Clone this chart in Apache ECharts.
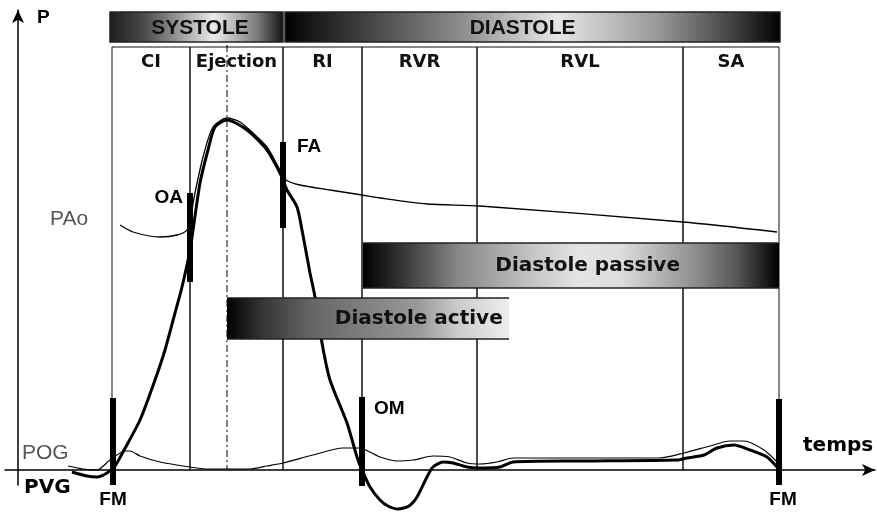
<!DOCTYPE html>
<html>
<head>
<meta charset="utf-8">
<script src="https://cdn.jsdelivr.net/npm/echarts@6/dist/echarts.min.js"></script>
<style>
  html, body { margin: 0; padding: 0; background: #fff; }
  #chart { width: 877px; height: 512px; }
</style>
</head>
<body>
<div id="chart"></div>
<script>
// temps (t) / pression (p), unités arbitraires
const pvg = [[54,-2],[69,-6],[79,-7],[89,-3],[97,4],[105,18],[122,50],[137,90],[147,120],[157,157],[164,183],
  [172,220],[182,287],[190,320],[197,343],[209,350],[229,340],[249,320],[262,297],[269,280],[279,263],[284,240],
  [292,197],[297,173],[304,127],[312,90],[329,47],[339,13],[344,0],[352,-17],[362,-30],[370,-36],[380,-39],[391,-36],
  [399,-27],[409,-7],[415,3],[425,8],[435,7],[449,3],[462,2],[482,3],[495,8],[562,9],[659,10],[669,12],
  [686,15],[699,22],[716,25],[732,20],[749,13],[759,3],[761,0]];
const pao = [[102,245],[115,238],[142,233],[159,235],[169,240],[173,255],[177,277],[185,313],[195,343],[209,352],
  [222,348],[235,337],[249,323],[262,300],[268,290],[282,285],[312,280],[344,275],[362,272],[409,266],[462,264],
  [665,248],[759,238]];
const pog = [[50,4],[65,1],[79,0],[92,10],[107,19],[112,19],[122,14],[142,8],[172,3],[189,1],[232,1],[249,4],
  [265,7],[295,15],[325,22],[342,22],[352,18],[362,13],[379,9],[395,10],[415,14],[432,13],[449,7],[462,6],
  [479,8],[495,12],[642,12],[666,17],[692,24],[712,29],[726,29],[746,20],[759,8]];

const phaseNames = ['CI', 'Ejection', 'RI', 'RVR', 'RVL', 'SA'];
const phaseBounds = [94, 172, 265, 344, 459, 665, 761];
const cycleNames = ['SYSTOLE', 'DIASTOLE'];
const cycleBounds = [[92, 265], [267, 762]];
const diastoleNames = ['Diastole passive', 'Diastole active'];
const diastoleBounds = [[345, 761], [209, 491]];
const valveNames = ['FM', 'OA', 'FA', 'OM', 'FM'];
const valveTimes = [95, 172, 265, 344, 761];
const valveRange = [[-15, 72], [188, 277], [242, 328], [-16, 73], [-15, 71]];
const ejectionMid = 209;

const chart = echarts.init(document.getElementById('chart'));

function grad(stops) {
  return { type: 'linear', x: 0, y: 0, x2: 1, y2: 0,
    colorStops: stops.map(s => ({ offset: s[0], color: s[1] })) };
}
const bandStops = [
  [[0,'#1c1c1c'],[0.2,'#4a4a4a'],[0.4,'#9a9a9a'],[0.6,'#ececec'],[0.85,'#7a7a7a'],[1,'#111']],
  [[0,'#000'],[0.1,'#2a2a2a'],[0.35,'#8a8a8a'],[0.55,'#e6e6e6'],[0.75,'#9a9a9a'],[0.9,'#444'],[1,'#000']]
];
// boites diastole : [haut, bas, position du texte, dégradé]
const boxStyle = [
  { top: 227, bottom: 182, textAt: 0.54,
    stops: [[0,'#000'],[0.09,'#333'],[0.23,'#888'],[0.43,'#ccc'],[0.52,'#e4e4e4'],[0.62,'#ddd'],[0.81,'#888'],[0.9,'#555'],[1,'#000']] },
  { top: 172, bottom: 131, textAt: 0.68,
    stops: [[0,'#000'],[0.12,'#333'],[0.3,'#666'],[0.68,'#999'],[0.82,'#ccc'],[1,'#eee']] }
];
// étiquettes des valves : [alignement, dx, dy, ancrage]
const valveLabel = [
  ['center', 0, 15, 'bottom'], ['right', -7, 5, 'top'], ['left', 14, 5, 'top'],
  ['left', 12, 12, 'top'], ['center', 4, 15, 'bottom']
];

const curve = (name, data, width, z) => ({
  type: 'line', name: name, z: z, clip: false, showSymbol: false, symbol: 'none',
  smooth: 0.25,
  data: data, lineStyle: { color: '#000', width: width }
});

const option = {
  animation: false,
  backgroundColor: '#fff',
  grid: { left: 5, right: 2, top: 10, bottom: 27 },
  xAxis: {
    type: 'value', min: -13, max: 857,
    axisLine: { show: true, onZero: true, symbol: ['none', 'arrow'], symbolSize: [9, 13],
      lineStyle: { color: '#000', width: 1.5 } },
    axisTick: { show: false }, axisLabel: { show: false }, splitLine: { show: false }
  },
  yAxis: {
    type: 'value', min: -15, max: 460,
    axisLine: { show: true, onZero: true, symbol: ['none', 'arrow'], symbolSize: [9, 13],
      lineStyle: { color: '#000', width: 1.5 } },
    axisTick: { show: false }, axisLabel: { show: false }, splitLine: { show: false }
  },
  series: [
    {
      type: 'custom', name: 'phases', z: 1, silent: true,
      data: phaseNames.map((n, i) => [phaseBounds[i], phaseBounds[i + 1]]),
      encode: { x: [0, 1] },
      renderItem(params, api) {
        const a = api.coord([api.value(0), 423]);
        const b = api.coord([api.value(1), 0]);
        const ty = api.coord([0, 408])[1];
        return { type: 'group', children: [
          { type: 'polyline', shape: { points: [[a[0], b[1]], [a[0], a[1]], [b[0], a[1]], [b[0], b[1]]] },
            style: { stroke: '#111', lineWidth: 1, fill: null } },
          { type: 'text', x: (a[0] + b[0]) / 2, y: ty,
            style: { text: phaseNames[params.dataIndex], align: 'center', verticalAlign: 'middle',
              font: 'bold 18px "DejaVu Sans"', fill: '#111' } }
        ] };
      }
    },
    {
      type: 'line', name: 'ejection', z: 1, silent: true, showSymbol: false, symbol: 'none',
      data: [[ejectionMid, 425], [ejectionMid, 0]],
      lineStyle: { color: '#000', width: 1, type: [7, 3, 2, 3] }
    },
    curve('POG', pog, 1.2, 2),
    curve('PAo', pao, 1.3, 2),
    curve('PVG', pvg, 3, 3),
    {
      type: 'custom', name: 'cycle', z: 4, silent: true,
      data: cycleBounds, encode: { x: [0, 1] },
      renderItem(params, api) {
        const a = api.coord([api.value(0), 458]);
        const b = api.coord([api.value(1), 428]);
        const i = params.dataIndex;
        const cx = i === 0 ? a[0] + (b[0] - a[0]) * 0.52 : a[0] + (b[0] - a[0]) * 0.48;
        return { type: 'group', children: [
          { type: 'rect', shape: { x: a[0], y: a[1], width: b[0] - a[0], height: b[1] - a[1] },
            style: { fill: grad(bandStops[i]), stroke: '#222', lineWidth: 1.5 } },
          { type: 'text', x: cx, y: (a[1] + b[1]) / 2 + 1,
            style: { text: cycleNames[i], align: 'center', verticalAlign: 'middle',
              font: 'bold 21px "Liberation Sans"', fill: '#111' } }
        ] };
      }
    },
    {
      type: 'custom', name: 'diastole', z: 4, silent: true,
      data: diastoleBounds, encode: { x: [0, 1] },
      renderItem(params, api) {
        const s = boxStyle[params.dataIndex];
        const a = api.coord([api.value(0), s.top]);
        const b = api.coord([api.value(1), s.bottom]);
        return { type: 'group', children: [
          { type: 'rect', shape: { x: a[0], y: a[1], width: b[0] - a[0], height: b[1] - a[1] },
            style: { fill: grad(s.stops) } },
          { type: 'line', shape: { x1: a[0], y1: a[1], x2: b[0], y2: a[1] }, style: { stroke: '#222', lineWidth: 1.5 } },
          { type: 'line', shape: { x1: a[0], y1: b[1], x2: b[0], y2: b[1] }, style: { stroke: '#222', lineWidth: 1.5 } },
          { type: 'text', x: a[0] + (b[0] - a[0]) * s.textAt, y: (a[1] + b[1]) / 2,
            style: { text: diastoleNames[params.dataIndex], align: 'center', verticalAlign: 'middle',
              font: 'bold 20px "DejaVu Sans"', fill: '#111' } }
        ] };
      }
    },
    {
      type: 'custom', name: 'valves', z: 5, silent: true,
      data: valveTimes.map((t, i) => [t, valveRange[i][0], valveRange[i][1]]),
      encode: { x: 0, y: [1, 2] },
      renderItem(params, api) {
        const lo = api.coord([api.value(0), api.value(1)]);
        const hi = api.coord([api.value(0), api.value(2)]);
        const l = valveLabel[params.dataIndex];
        const ly = l[3] === 'bottom' ? lo[1] + l[2] : hi[1] + l[2];
        return { type: 'group', children: [
          { type: 'rect', shape: { x: lo[0] - 3, y: hi[1], width: 6, height: lo[1] - hi[1] },
            style: { fill: '#000' } },
          { type: 'text', x: lo[0] + l[1], y: ly,
            style: { text: valveNames[params.dataIndex], align: l[0], verticalAlign: 'middle',
              font: 'bold 19px "Liberation Sans"', fill: '#000' } }
        ] };
      }
    }
  ],
  graphic: [
    { type: 'text', x: 37, y: 18, style: { text: 'P', font: 'bold 19px "Liberation Sans"', fill: '#000', verticalAlign: 'middle', textVerticalAlign: 'middle' } },
    { type: 'text', x: 803, y: 446, style: { text: 'temps', font: 'bold 20px "DejaVu Sans"', fill: '#000', verticalAlign: 'middle', textVerticalAlign: 'middle' } },
    { type: 'text', x: 24, y: 488, style: { text: 'PVG', font: 'bold 20px "DejaVu Sans"', fill: '#000', verticalAlign: 'middle', textVerticalAlign: 'middle' } },
    { type: 'text', x: 22, y: 453, style: { text: 'POG', font: '21px "Liberation Sans"', fill: '#555', verticalAlign: 'middle', textVerticalAlign: 'middle' } },
    { type: 'text', x: 50, y: 219, style: { text: 'PAo', font: '21px "Liberation Sans"', fill: '#555', verticalAlign: 'middle', textVerticalAlign: 'middle' } }
  ]
};

chart.setOption(option);
window.onresize = chart.resize;
</script>
</body>
</html>
